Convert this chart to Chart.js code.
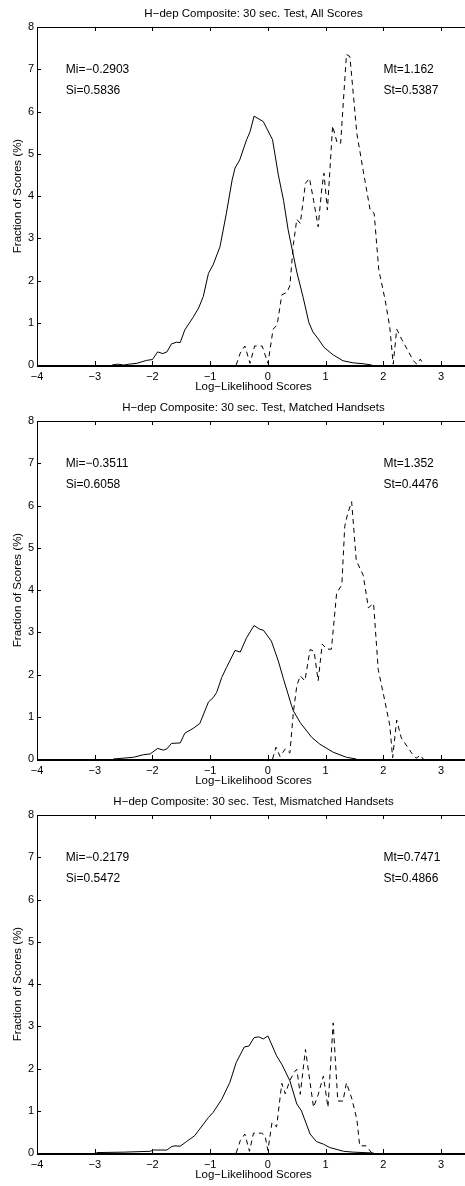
<!DOCTYPE html>
<html>
<head>
<meta charset="utf-8">
<script src="https://cdn.jsdelivr.net/npm/chart.js@4"></script>
<style>
  html, body { margin: 0; padding: 0; background: #fff; overflow: hidden; }
  body { width: 465px; height: 1186px; position: relative; }
  canvas { position: absolute; left: 0; }
</style>
</head>
<body>
<canvas id="c1" width="480" height="394" style="top:0px"></canvas>
<canvas id="c2" width="480" height="394" style="top:394px"></canvas>
<canvas id="c3" width="480" height="394" style="top:788px"></canvas>
<script>
// ---- data ----
var titles = [
  "H\u2212dep Composite: 30 sec. Test, All Scores",
  "H\u2212dep Composite: 30 sec. Test, Matched Handsets",
  "H\u2212dep Composite: 30 sec. Test, Mismatched Handsets"
];

// panel 1: all scores
var allImpX = [-2.7, -2.6, -2.5, -2.4, -2.27, -2.1, -2.0, -1.91, -1.82, -1.75, -1.67, -1.58, -1.52, -1.44, -1.3, -1.2, -1.12, -1.03, -0.95, -0.83, -0.72, -0.62, -0.57, -0.49, -0.37, -0.31, -0.24, -0.08, 0.08, 0.18, 0.27, 0.35, 0.44, 0.5, 0.61, 0.71, 0.78, 0.87, 0.97, 1.13, 1.3, 1.48, 1.65, 1.8];
var allImpY = [0, 0.02, 0, 0.02, 0.04, 0.11, 0.13, 0.31, 0.27, 0.31, 0.5, 0.54, 0.53, 0.83, 1.12, 1.35, 1.62, 2.17, 2.37, 2.8, 3.59, 4.38, 4.66, 4.85, 5.33, 5.52, 5.89, 5.76, 5.33, 4.5, 3.9, 3.2, 2.6, 2.2, 1.6, 1.0, 0.78, 0.62, 0.42, 0.24, 0.1, 0.05, 0.03, 0];
var allTarX = [-0.55, -0.48, -0.4, -0.31, -0.23, -0.1, 0.0, 0.09, 0.16, 0.24, 0.33, 0.38, 0.44, 0.5, 0.56, 0.65, 0.72, 0.79, 0.87, 0.93, 0.97, 1.03, 1.07, 1.12, 1.2, 1.26, 1.3, 1.36, 1.42, 1.54, 1.65, 1.77, 1.84, 1.92, 2.03, 2.11, 2.17, 2.23, 2.32, 2.42, 2.52, 2.58, 2.64, 2.7];
var allTarY = [0, 0.28, 0.45, 0.04, 0.45, 0.45, 0.04, 0.85, 0.95, 1.66, 1.72, 1.88, 2.85, 3.45, 3.35, 4.3, 4.42, 3.9, 3.27, 4.14, 4.54, 3.67, 4.54, 5.66, 5.25, 5.25, 6.1, 7.35, 7.3, 5.48, 4.6, 3.67, 3.59, 2.25, 1.54, 0.9, 0.02, 0.85, 0.6, 0.35, 0.1, 0.02, 0.14, 0];
var allStats = ["Mi=\u22120.2903", "Si=0.5836", "Mt=1.162", "St=0.5387"];

// panel 2: matched handsets
var matImpX = [-2.68, -2.33, -2.16, -2.04, -1.91, -1.81, -1.75, -1.67, -1.52, -1.44, -1.29, -1.18, -1.03, -0.95, -0.89, -0.8, -0.72, -0.57, -0.48, -0.37, -0.24, -0.14, -0.08, 0.06, 0.18, 0.27, 0.41, 0.44, 0.56, 0.76, 0.9, 1.13, 1.36, 1.53];
var matImpY = [0, 0.04, 0.1, 0.12, 0.25, 0.21, 0.24, 0.37, 0.38, 0.61, 0.73, 0.84, 1.35, 1.45, 1.57, 1.93, 2.16, 2.57, 2.53, 2.87, 3.16, 3.07, 3.05, 2.79, 2.32, 1.89, 1.26, 1.14, 0.86, 0.51, 0.35, 0.16, 0.04, 0];
var matTarX = [0.08, 0.14, 0.21, 0.3, 0.38, 0.44, 0.5, 0.56, 0.64, 0.73, 0.8, 0.87, 0.94, 1.02, 1.1, 1.19, 1.28, 1.33, 1.38, 1.45, 1.53, 1.65, 1.74, 1.83, 1.91, 2.03, 2.11, 2.16, 2.23, 2.31, 2.49, 2.57, 2.64, 2.69];
var matTarY = [0, 0.28, 0.06, 0.24, 0.14, 1.1, 1.73, 1.97, 1.85, 2.59, 2.55, 1.85, 2.72, 2.6, 2.6, 3.93, 4.12, 5.5, 5.8, 6.09, 4.7, 4.35, 3.58, 3.68, 2.12, 1.34, 0.8, 0.03, 0.92, 0.5, 0.14, 0.02, 0.09, 0];
var matStats = ["Mi=\u22120.3511", "Si=0.6058", "Mt=1.352", "St=0.4476"];

// panel 3: mismatched handsets
var misImpX = [-2.97, -2.5, -2.04, -1.98, -1.75, -1.67, -1.61, -1.52, -1.41, -1.27, -1.18, -1.03, -0.95, -0.8, -0.66, -0.55, -0.41, -0.33, -0.24, -0.16, -0.08, 0.0, 0.15, 0.24, 0.38, 0.5, 0.58, 0.73, 0.84, 0.96, 1.07, 1.31, 1.48, 1.83];
var misImpY = [0.01, 0.02, 0.04, 0.07, 0.07, 0.15, 0.17, 0.16, 0.27, 0.41, 0.57, 0.84, 0.96, 1.27, 1.67, 2.14, 2.51, 2.53, 2.73, 2.75, 2.7, 2.77, 2.3, 2.1, 1.71, 1.16, 1.0, 0.45, 0.27, 0.21, 0.13, 0.04, 0.02, 0];
var misTarX = [-0.55, -0.48, -0.4, -0.32, -0.25, -0.11, -0.05, 0.0, 0.07, 0.15, 0.24, 0.3, 0.38, 0.46, 0.5, 0.56, 0.65, 0.79, 0.87, 0.96, 1.04, 1.13, 1.21, 1.3, 1.36, 1.45, 1.54, 1.59, 1.7, 1.8];
var misTarY = [0, 0.29, 0.45, 0.04, 0.47, 0.47, 0.41, 0.06, 0.72, 0.62, 1.65, 1.4, 1.72, 1.92, 1.98, 1.39, 2.45, 1.08, 1.38, 1.82, 1.08, 3.08, 1.23, 1.23, 1.66, 1.3, 0.8, 0.17, 0.17, 0];
var misStats = ["Mi=\u22120.2179", "Si=0.5472", "Mt=0.7471", "St=0.4866"];

var xTickValues = [-4, -3, -2, -1, 0, 1, 2, 3];

Chart.defaults.font.family = "'Liberation Sans', Arial, sans-serif";
Chart.defaults.color = "#000";

function pts(xs, ys) {
  return xs.map(function (v, i) { return { x: v, y: ys[i] }; });
}

function fmt(v) {
  return v < 0 ? "\u2212" + Math.abs(v) : String(v);
}

// MATLAB-style box with inward ticks plus the Mi/Si/Mt/St notes
var matlabFrame = {
  id: "matlabFrame",
  afterDatasetsDraw: function (chart, args, opts) {
    var ctx = chart.ctx, a = chart.chartArea;
    var xs = chart.scales.x, ys = chart.scales.y;
    ctx.save();
    ctx.strokeStyle = "#000";
    ctx.lineWidth = 1;
    ctx.beginPath();
    ctx.moveTo(a.left + 0.5, a.bottom);
    ctx.lineTo(a.left + 0.5, a.top + 0.5);
    ctx.lineTo(a.right + 0.5, a.top + 0.5);
    ctx.lineTo(a.right + 0.5, a.bottom);
    xs.ticks.forEach(function (t) {
      var px = Math.round(xs.getPixelForValue(t.value)) + 0.5;
      ctx.moveTo(px, a.top);
      ctx.lineTo(px, a.top + 4);
      ctx.moveTo(px, a.bottom);
      ctx.lineTo(px, a.bottom - 4);
    });
    ys.ticks.forEach(function (t) {
      var py = Math.round(ys.getPixelForValue(t.value)) + 0.5;
      ctx.moveTo(a.left, py);
      ctx.lineTo(a.left + 4, py);
    });
    ctx.stroke();
    ctx.lineWidth = 2;
    ctx.beginPath();
    ctx.moveTo(a.left, a.bottom + 1);
    ctx.lineTo(a.right + 1, a.bottom + 1);
    ctx.stroke();

    var s = opts.stats || [];
    ctx.fillStyle = "#000";
    ctx.font = "12px 'Liberation Sans', Arial, sans-serif";
    ctx.textAlign = "left";
    ctx.textBaseline = "middle";
    var spots = [[-3.5, 7], [-3.5, 6.5], [2, 7], [2, 6.5]];
    s.forEach(function (txt, i) {
      ctx.fillText(txt, xs.getPixelForValue(spots[i][0]), ys.getPixelForValue(spots[i][1]));
    });
    ctx.restore();
  }
};

function makeChart(id, title, impX, impY, tarX, tarY, stats) {
  var ctx = document.getElementById(id).getContext("2d");
  return new Chart(ctx, {
    type: "line",
    data: {
      datasets: [
        {
          label: "impostor",
          data: pts(impX, impY),
          borderColor: "#000",
          borderWidth: 1,
          pointRadius: 0,
          tension: 0,
          fill: false
        },
        {
          label: "target",
          data: pts(tarX, tarY),
          borderColor: "#000",
          borderWidth: 1,
          borderDash: [5, 4],
          pointRadius: 0,
          tension: 0,
          fill: false
        }
      ]
    },
    options: {
      responsive: false,
      animation: false,
      devicePixelRatio: 1,
      layout: { padding: { left: 0, right: 10, top: 0, bottom: 0 } },
      plugins: {
        legend: { display: false },
        tooltip: { enabled: false },
        title: {
          display: true,
          text: title,
          fullSize: false,
          color: "#000",
          font: { size: 11.5, weight: "normal" },
          padding: { top: 7, bottom: 6.2 }
        },
        matlabFrame: { stats: stats }
      },
      scales: {
        x: {
          type: "linear",
          min: -4,
          max: 3.5,
          afterBuildTicks: function (scale) {
            scale.ticks = xTickValues.map(function (v) { return { value: v }; });
          },
          afterFit: function (scale) { scale.height = 29; },
          grid: { display: false, drawTicks: false },
          border: { display: false },
          ticks: {
            padding: 5,
            maxRotation: 0,
            font: { size: 11 },
            callback: function (v) { return fmt(v); }
          },
          title: {
            display: true,
            text: "Log\u2212Likelihood Scores",
            font: { size: 11.5 },
            padding: { top: 0, bottom: 0 }
          }
        },
        y: {
          min: 0,
          max: 8,
          afterFit: function (scale) { scale.width = 37; },
          grid: { display: false, drawTicks: false },
          border: { display: false },
          ticks: {
            stepSize: 1,
            padding: 3,
            font: { size: 11 },
            callback: function (v) { return fmt(v); }
          },
          title: {
            display: true,
            text: "Fraction of Scores (%)",
            font: { size: 11.5 },
            padding: { top: 11, bottom: 0 }
          }
        }
      }
    },
    plugins: [matlabFrame]
  });
}

makeChart("c1", titles[0], allImpX, allImpY, allTarX, allTarY, allStats);
makeChart("c2", titles[1], matImpX, matImpY, matTarX, matTarY, matStats);
makeChart("c3", titles[2], misImpX, misImpY, misTarX, misTarY, misStats);
</script>
</body>
</html>
